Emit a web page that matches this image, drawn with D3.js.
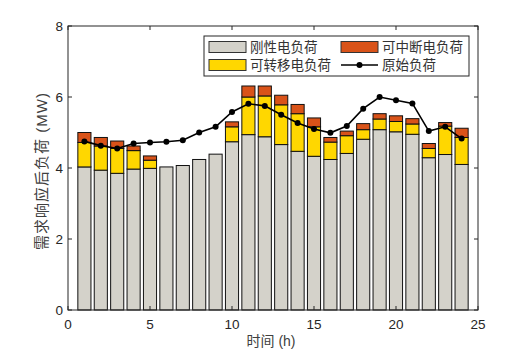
<!DOCTYPE html>
<html><head><meta charset="utf-8">
<script src="https://cdn.jsdelivr.net/npm/d3@7"></script>
<style>body{margin:0;background:#fff}svg{display:block}</style>
</head><body><svg id="c" width="529" height="354"></svg>
<script>
const hours = d3.range(1, 25);
const rigid = [4.03,3.94,3.85,3.97,3.99,4.03,4.07,4.24,4.39,4.74,4.94,4.88,4.66,4.47,4.33,4.24,4.41,4.81,5.08,5.02,4.95,4.29,4.38,4.10];
const shiftable = [0.69,0.68,0.70,0.52,0.23,0,0,0,0,0.42,1.06,1.15,1.12,1.06,0.83,0.49,0.50,0.27,0.30,0.29,0.29,0.26,0.80,0.76];
const interruptible = [0.28,0.24,0.21,0.13,0.12,0,0,0,0,0.14,0.31,0.28,0.27,0.26,0.25,0.13,0.13,0.17,0.15,0.16,0.15,0.14,0.10,0.26];
const original = [4.75,4.63,4.55,4.69,4.72,4.74,4.78,5.00,5.16,5.58,5.81,5.75,5.50,5.27,5.10,4.99,5.18,5.67,6.00,5.91,5.82,5.04,5.16,4.83];
const xTicks = [0,5,10,15,20,25];
const yTicks = [0,2,4,6,8];
const seriesNames = ["刚性电负荷","可转移电负荷","可中断电负荷","原始负荷"];
const colors = ["#d4d2ca","#ffd700","#d95319"];

const svg = d3.select("#c");
const L = 68, R = 478, T = 26, B = 310;
const x = d3.scaleLinear().domain([0,25]).range([L,R]);
const y = d3.scaleLinear().domain([0,8]).range([B,T]);
const font = "'Liberation Sans','Noto Sans CJK SC',sans-serif";
const axisColor = "#262626";

const table = hours.map((h,i)=>({h, rigid:rigid[i], shiftable:shiftable[i], interruptible:interruptible[i]}));
const stack = d3.stack().keys(["rigid","shiftable","interruptible"])(table);
const bw = x(0.8) - x(0);

stack.forEach((layer, k) => {
  svg.append("g").selectAll("rect").data(layer.filter(d => d[1]-d[0] > 0.001)).join("rect")
    .attr("x", d => x(d.data.h) - bw/2)
    .attr("y", d => y(d[1]))
    .attr("width", bw)
    .attr("height", d => y(d[0]) - y(d[1]))
    .attr("fill", colors[k])
    .attr("stroke", "#111")
    .attr("stroke-width", 1);
});

// line
const line = d3.line().x((d,i)=>x(hours[i])).y(d=>y(d));
svg.append("path").datum(original).attr("d", line).attr("fill","none").attr("stroke","#000").attr("stroke-width",1.6);
svg.append("g").selectAll("circle").data(original).join("circle")
  .attr("cx",(d,i)=>x(hours[i])).attr("cy",d=>y(d)).attr("r",3).attr("fill","#000");

// axes box
const gA = svg.append("g");
gA.append("rect").attr("x",L).attr("y",T).attr("width",R-L).attr("height",B-T)
  .attr("fill","none").attr("stroke",axisColor).attr("stroke-width",1);
const tl = 4;
xTicks.forEach(t=>{
  gA.append("line").attr("x1",x(t)).attr("x2",x(t)).attr("y1",B).attr("y2",B-tl).attr("stroke",axisColor);
  gA.append("line").attr("x1",x(t)).attr("x2",x(t)).attr("y1",T).attr("y2",T+tl).attr("stroke",axisColor);
  gA.append("text").attr("x",x(t)).attr("y",B+19).attr("text-anchor","middle")
    .attr("font-family",font).attr("font-size",13.5).attr("fill",axisColor).text(t);
});
yTicks.forEach(t=>{
  gA.append("line").attr("x1",L).attr("x2",L+tl).attr("y1",y(t)).attr("y2",y(t)).attr("stroke",axisColor);
  gA.append("line").attr("x1",R).attr("x2",R-tl).attr("y1",y(t)).attr("y2",y(t)).attr("stroke",axisColor);
  gA.append("text").attr("x",L-5).attr("y",y(t)+4.5).attr("text-anchor","end")
    .attr("font-family",font).attr("font-size",13.5).attr("fill",axisColor).text(t);
});
svg.append("text").attr("x",271).attr("y",346).attr("text-anchor","middle")
  .attr("font-family",font).attr("font-size",14).attr("fill","#404040").text("时间 (h)");
svg.append("text").attr("transform",`translate(47,171) rotate(-90)`).attr("text-anchor","middle")
  .attr("font-family",font).attr("font-size",15).attr("letter-spacing",1).attr("fill","#404040").text("需求响应后负荷 (MW)");

// legend
const lg = svg.append("g");
lg.append("rect").attr("x",204).attr("y",36).attr("width",265).attr("height",40)
  .attr("fill","#fff").attr("stroke",axisColor).attr("stroke-width",1);
const items = [
  {name:seriesNames[0], type:"bar", c:colors[0], sx:209, ty:47},
  {name:seriesNames[2], type:"bar", c:colors[2], sx:341, ty:47},
  {name:seriesNames[1], type:"bar", c:colors[1], sx:209, ty:65},
  {name:seriesNames[3], type:"line", sx:341, ty:65}
];
items.forEach(it=>{
  if (it.type==="bar") {
    lg.append("rect").attr("x",it.sx).attr("y",it.ty-5.5).attr("width",37).attr("height",11)
      .attr("fill",it.c).attr("stroke","#333").attr("stroke-width",1);
  } else {
    lg.append("line").attr("x1",it.sx).attr("x2",it.sx+37).attr("y1",it.ty).attr("y2",it.ty)
      .attr("stroke","#000").attr("stroke-width",1.6);
    lg.append("circle").attr("cx",it.sx+18.5).attr("cy",it.ty).attr("r",3).attr("fill","#000");
  }
  lg.append("text").attr("x",it.sx+41).attr("y",it.ty+5).attr("font-family",font)
    .attr("font-size",13.5).attr("fill","#333").text(it.name);
});
</script></body></html>
